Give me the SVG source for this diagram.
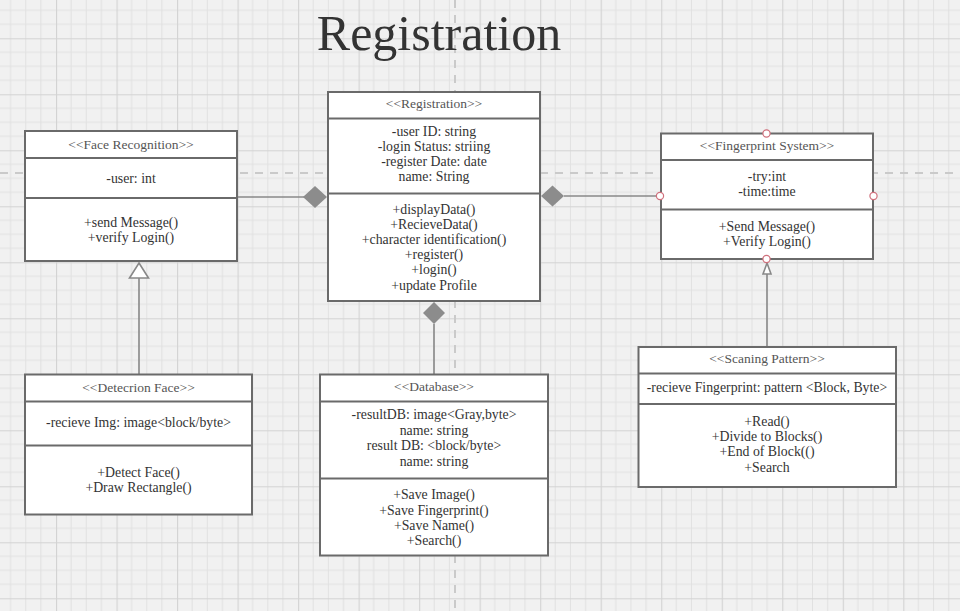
<svg xmlns="http://www.w3.org/2000/svg" width="960" height="611" viewBox="0 0 960 611">
<defs>
<pattern id="grid" patternUnits="userSpaceOnUse" x="56" y="38.3" width="60.52" height="56">
<rect width="60.52" height="56" fill="#f1f1f1"/>
<g stroke="#e1e1e1" stroke-width="1">
<line x1="15.13" y1="0" x2="15.13" y2="56"/>
<line x1="30.26" y1="0" x2="30.26" y2="56"/>
<line x1="45.39" y1="0" x2="45.39" y2="56"/>
<line x1="0" y1="14" x2="60.52" y2="14"/>
<line x1="0" y1="28" x2="60.52" y2="28"/>
<line x1="0" y1="42" x2="60.52" y2="42"/>
</g>
<g stroke="#d3d3d3" stroke-width="1.2">
<line x1="0.5" y1="0" x2="0.5" y2="56"/>
<line x1="0" y1="0.5" x2="60.52" y2="0.5"/>
</g>
</pattern>
<style>
.box{fill:#fff;stroke:#6a6a6a;stroke-width:2}
.div{stroke:#6a6a6a;stroke-width:2}
.t{font-family:"Liberation Serif","Times New Roman",serif;font-size:13.8px;fill:#333;text-anchor:middle}
.h{font-family:"Liberation Serif","Times New Roman",serif;font-size:13.5px;fill:#555;text-anchor:middle}
.ln{stroke:#888;stroke-width:1.6;fill:none}
.dia{fill:#8c8c8c;stroke:none}
.hol{fill:#fff;stroke:#888;stroke-width:1.6}
.pt{fill:#fff;stroke:#d0707c;stroke-width:1.2}
.guide{stroke:#cacaca;stroke-width:2;stroke-dasharray:8 7}
</style>
</defs>
<rect width="960" height="611" fill="url(#grid)"/>
<line class="guide" x1="455" y1="0" x2="455" y2="611"/>
<line class="guide" x1="0" y1="173" x2="960" y2="173"/>
<text x="439" y="50" font-family="Liberation Serif,Times New Roman,serif" font-size="50" fill="#333" text-anchor="middle">Registration</text>

<g id="connectors">
<line class="ln" x1="237" y1="197" x2="304" y2="197"/>
<polygon class="dia" points="303,197 315,186 327,197 315,208"/>
<line class="ln" x1="564" y1="196" x2="660" y2="196"/>
<polygon class="dia" points="541,196 552.5,185.5 564,196 552.5,206.5"/>
<line class="ln" x1="434" y1="324" x2="434" y2="375"/>
<polygon class="dia" points="434,302 445,313 434,324 423,313"/>
<line class="ln" x1="139" y1="278" x2="139" y2="375"/>
<polygon class="hol" points="139,263 148.5,278 129.5,278"/>
<line class="ln" x1="767" y1="274" x2="767" y2="347"/>
<polygon class="hol" points="767,263 771,274 763,274"/>
</g>

<g id="face-recognition">
<rect class="box" x="25" y="131" width="212" height="130"/>
<line class="div" x1="25" y1="158" x2="237" y2="158"/>
<line class="div" x1="25" y1="198" x2="237" y2="198"/>
<text class="h" x="131" y="148.5">&lt;&lt;Face Recognition&gt;&gt;</text>
<text class="t" x="131" y="182.5">-user: int</text>
<text class="t" x="131" y="226.5">+send Message()</text>
<text class="t" x="131" y="241.5">+verify Login()</text>
</g>

<g id="registration">
<rect class="box" x="328" y="92" width="212" height="209"/>
<line class="div" x1="328" y1="118.5" x2="540" y2="118.5"/>
<line class="div" x1="328" y1="193.5" x2="540" y2="193.5"/>
<text class="h" x="434" y="107.5">&lt;&lt;Registration&gt;&gt;</text>
<text class="t" x="434" y="135.5">-user ID: string</text>
<text class="t" x="434" y="150.5">-login Status: striing</text>
<text class="t" x="434" y="165.5">-register Date: date</text>
<text class="t" x="434" y="180.5">name: String</text>
<text class="t" x="434" y="213.5">+displayData()</text>
<text class="t" x="434" y="228.5">+RecieveData()</text>
<text class="t" x="434" y="243.5">+character identification()</text>
<text class="t" x="434" y="258.5">+register()</text>
<text class="t" x="434" y="273.5">+login()</text>
<text class="t" x="434" y="289.5">+update Profile</text>
</g>

<g id="fingerprint-system">
<rect class="box" x="661" y="133.5" width="212" height="125.5"/>
<line class="div" x1="661" y1="160" x2="873" y2="160"/>
<line class="div" x1="661" y1="209.5" x2="873" y2="209.5"/>
<text class="h" x="767" y="149.5">&lt;&lt;Fingerprint System&gt;&gt;</text>
<text class="t" x="767" y="180.5">-try:int</text>
<text class="t" x="767" y="195.5">-time:time</text>
<text class="t" x="767" y="231">+Send Message()</text>
<text class="t" x="767" y="246">+Verify Login()</text>
<circle class="pt" cx="766.5" cy="133.5" r="3.6"/>
<circle class="pt" cx="660" cy="196" r="3.6"/>
<circle class="pt" cx="873.5" cy="196" r="3.6"/>
<circle class="pt" cx="766.5" cy="259" r="3.6"/>
</g>

<g id="detection-face">
<rect class="box" x="25" y="374.5" width="227" height="140"/>
<line class="div" x1="25" y1="401.5" x2="252" y2="401.5"/>
<line class="div" x1="25" y1="445.5" x2="252" y2="445.5"/>
<text class="h" x="138.5" y="391.5">&lt;&lt;Detecrion Face&gt;&gt;</text>
<text class="t" x="138.5" y="427">-recieve Img: image&lt;block/byte&gt;</text>
<text class="t" x="138.5" y="476.5">+Detect Face()</text>
<text class="t" x="138.5" y="492">+Draw Rectangle()</text>
</g>

<g id="database">
<rect class="box" x="320" y="374.5" width="228" height="181"/>
<line class="div" x1="320" y1="401.5" x2="548" y2="401.5"/>
<line class="div" x1="320" y1="478.5" x2="548" y2="478.5"/>
<text class="h" x="434" y="391">&lt;&lt;Database&gt;&gt;</text>
<text class="t" x="434" y="419">-resultDB: image&lt;Gray,byte&gt;</text>
<text class="t" x="434" y="434.5">name: string</text>
<text class="t" x="434" y="450">result DB: &lt;block/byte&gt;</text>
<text class="t" x="434" y="465.5">name: string</text>
<text class="t" x="434" y="499">+Save Image()</text>
<text class="t" x="434" y="514.5">+Save Fingerprint()</text>
<text class="t" x="434" y="529.5">+Save Name()</text>
<text class="t" x="434" y="545">+Search()</text>
</g>

<g id="scaning-pattern">
<rect class="box" x="638.5" y="347" width="257.5" height="140"/>
<line class="div" x1="638.5" y1="373.5" x2="896" y2="373.5"/>
<line class="div" x1="638.5" y1="404" x2="896" y2="404"/>
<text class="h" x="767" y="363">&lt;&lt;Scaning Pattern&gt;&gt;</text>
<text class="t" x="767" y="391.5">-recieve Fingerprint: pattern &lt;Block, Byte&gt;</text>
<text class="t" x="767" y="425.5">+Read()</text>
<text class="t" x="767" y="441">+Divide to Blocks()</text>
<text class="t" x="767" y="456">+End of Block(()</text>
<text class="t" x="767" y="471.5">+Search</text>
</g>
</svg>
